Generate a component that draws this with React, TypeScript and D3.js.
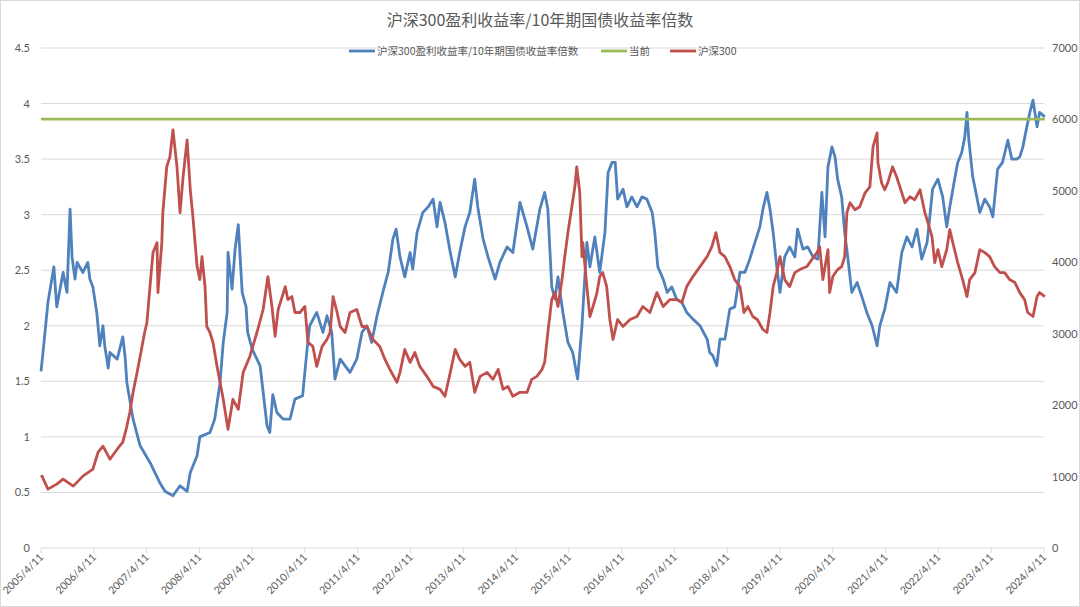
import React from "react";
import * as d3 from "d3";

const width = 1080;
const height = 607;
const margin = { left: 41, right: 36, top: 48, bottom: 59 };
const cjkFont = "'Noto Sans CJK SC', 'Noto Sans', sans-serif";
const numFont = "Lato, 'Noto Sans', sans-serif";
const textColor = "#595959";
const gridColor = "#d9d9d9";

const title = "沪深300盈利收益率/10年期国债收益率倍数";
const seriesNames = ["沪深300盈利收益率/10年期国债收益率倍数", "当前", "沪深300"];
const seriesColors = ["#4f81bd", "#9bbb59", "#c0504d"];

const xTickLabels = [
  "2005/4/11", "2006/4/11", "2007/4/11", "2008/4/11", "2009/4/11",
  "2010/4/11", "2011/4/11", "2012/4/11", "2013/4/11", "2014/4/11",
  "2015/4/11", "2016/4/11", "2017/4/11", "2018/4/11", "2019/4/11",
  "2020/4/11", "2021/4/11", "2022/4/11", "2023/4/11", "2024/4/11",
];
const leftTicks = [0, 0.5, 1, 1.5, 2, 2.5, 3, 3.5, 4, 4.5];
const rightTicks = [0, 1000, 2000, 3000, 4000, 5000, 6000, 7000];

const currentRatio = 3.86;

// 盈利收益率/国债收益率倍数 (left axis)
const ratio: [string, number][] = [
  ["2005-04-11", 1.59], ["2005-04-25", 1.76], ["2005-05-29", 2.21], ["2005-07-09", 2.53],
  ["2005-07-29", 2.17], ["2005-09-11", 2.48], ["2005-10-08", 2.3], ["2005-10-29", 3.05],
  ["2005-11-12", 2.62], ["2005-12-02", 2.42], ["2005-12-17", 2.57], ["2006-01-26", 2.48],
  ["2006-03-01", 2.57], ["2006-03-15", 2.42], ["2006-04-05", 2.35], ["2006-05-02", 2.12],
  ["2006-05-23", 1.82], ["2006-06-14", 2.0], ["2006-06-26", 1.82], ["2006-07-20", 1.62],
  ["2006-08-01", 1.76], ["2006-09-20", 1.7], ["2006-10-29", 1.9], ["2006-11-14", 1.72],
  ["2006-11-26", 1.49], ["2007-01-08", 1.16], ["2007-02-26", 0.92], ["2007-05-05", 0.77],
  ["2007-07-11", 0.59], ["2007-08-17", 0.51], ["2007-10-11", 0.47], ["2007-11-29", 0.56],
  ["2008-01-17", 0.51], ["2008-02-08", 0.68], ["2008-03-26", 0.83], ["2008-04-14", 1.0],
  ["2008-06-23", 1.04], ["2008-07-26", 1.16], ["2008-09-01", 1.49], ["2008-09-23", 1.85],
  ["2008-10-20", 2.12], ["2008-10-26", 2.66], ["2008-11-23", 2.33], ["2008-12-14", 2.69],
  ["2009-01-05", 2.91], ["2009-02-01", 2.3], ["2009-02-28", 2.17], ["2009-03-11", 1.94],
  ["2009-04-11", 1.79], ["2009-06-05", 1.64], ["2009-07-23", 1.1], ["2009-08-11", 1.04],
  ["2009-09-01", 1.38], ["2009-09-29", 1.22], ["2009-11-11", 1.16], ["2009-12-29", 1.16],
  ["2010-02-01", 1.34], ["2010-03-26", 1.37], ["2010-04-26", 1.79], ["2010-05-14", 2.0],
  ["2010-07-02", 2.12], ["2010-08-14", 1.94], ["2010-09-11", 2.09], ["2010-10-14", 1.94],
  ["2010-11-05", 1.52], ["2010-12-11", 1.7], ["2011-02-17", 1.58], ["2011-04-05", 1.7],
  ["2011-05-11", 1.94], ["2011-06-14", 2.0], ["2011-07-17", 1.85], ["2011-08-23", 2.09],
  ["2011-10-02", 2.3], ["2011-11-08", 2.48], ["2011-12-11", 2.78], ["2012-01-02", 2.87],
  ["2012-01-29", 2.62], ["2012-03-02", 2.44], ["2012-04-08", 2.66], ["2012-04-26", 2.51],
  ["2012-05-26", 2.84], ["2012-07-05", 3.02], ["2012-08-11", 3.07], ["2012-09-14", 3.14],
  ["2012-10-11", 2.89], ["2012-11-01", 3.11], ["2012-12-05", 2.93], ["2013-01-11", 2.66],
  ["2013-02-14", 2.44], ["2013-03-17", 2.66], ["2013-04-23", 2.89], ["2013-05-26", 3.02],
  ["2013-06-29", 3.32], ["2013-07-20", 3.07], ["2013-08-26", 2.78], ["2013-09-29", 2.62],
  ["2013-11-17", 2.42], ["2013-12-20", 2.57], ["2014-02-08", 2.71], ["2014-03-20", 2.66],
  ["2014-05-08", 3.11], ["2014-06-26", 2.89], ["2014-08-05", 2.69], ["2014-09-23", 3.05],
  ["2014-10-26", 3.2], ["2014-11-17", 3.05], ["2014-12-14", 2.35], ["2015-01-05", 2.24],
  ["2015-01-26", 2.44], ["2015-03-01", 2.12], ["2015-04-05", 1.85], ["2015-05-08", 1.76],
  ["2015-06-11", 1.52], ["2015-07-11", 2.0], ["2015-08-14", 2.75], ["2015-09-04", 2.53],
  ["2015-10-08", 2.8], ["2015-11-11", 2.48], ["2015-12-17", 2.84], ["2016-01-08", 3.38],
  ["2016-02-04", 3.47], ["2016-02-26", 3.47], ["2016-03-14", 3.14], ["2016-04-20", 3.23],
  ["2016-05-17", 3.07], ["2016-06-20", 3.16], ["2016-07-26", 3.07], ["2016-08-29", 3.16],
  ["2016-10-02", 3.14], ["2016-11-08", 3.02], ["2016-11-26", 2.84], ["2016-12-17", 2.53],
  ["2017-01-23", 2.42], ["2017-02-20", 2.3], ["2017-03-23", 2.35], ["2017-04-26", 2.24],
  ["2017-06-01", 2.21], ["2017-07-05", 2.12], ["2017-08-17", 2.06], ["2017-10-05", 2.0],
  ["2017-11-23", 1.88], ["2017-12-11", 1.76], ["2018-01-02", 1.73], ["2018-01-29", 1.64],
  ["2018-02-20", 1.88], ["2018-03-26", 1.88], ["2018-04-29", 2.15], ["2018-06-02", 2.17],
  ["2018-07-08", 2.48], ["2018-08-11", 2.48], ["2018-09-14", 2.6], ["2018-10-20", 2.75],
  ["2018-11-23", 2.89], ["2018-12-14", 3.05], ["2019-01-11", 3.2], ["2019-02-01", 3.05],
  ["2019-02-23", 2.84], ["2019-03-20", 2.53], ["2019-04-11", 2.3], ["2019-05-14", 2.62],
  ["2019-06-17", 2.71], ["2019-07-23", 2.62], ["2019-08-11", 2.87], ["2019-09-17", 2.69],
  ["2019-10-20", 2.71], ["2019-11-26", 2.62], ["2019-12-29", 2.6], ["2020-01-26", 3.2],
  ["2020-02-17", 2.8], ["2020-03-08", 3.43], ["2020-04-05", 3.61], ["2020-04-26", 3.52],
  ["2020-05-14", 3.32], ["2020-06-11", 3.16], ["2020-07-02", 2.84], ["2020-07-23", 2.62],
  ["2020-08-20", 2.3], ["2020-09-26", 2.39], ["2020-10-29", 2.26], ["2020-12-02", 2.12],
  ["2021-01-08", 2.0], ["2021-02-11", 1.82], ["2021-03-02", 2.0], ["2021-04-05", 2.15],
  ["2021-05-11", 2.39], ["2021-06-26", 2.3], ["2021-08-01", 2.66], ["2021-09-05", 2.8],
  ["2021-10-11", 2.71], ["2021-11-14", 2.87], ["2021-12-17", 2.6], ["2022-01-23", 2.75],
  ["2022-02-11", 2.98], ["2022-03-02", 3.23], ["2022-04-08", 3.32], ["2022-05-11", 3.16],
  ["2022-06-08", 2.89], ["2022-06-29", 3.07], ["2022-08-02", 3.32], ["2022-08-23", 3.47],
  ["2022-09-20", 3.56], ["2022-10-11", 3.7], ["2022-10-26", 3.92], ["2022-11-08", 3.67],
  ["2022-12-05", 3.34], ["2023-01-02", 3.16], ["2023-01-23", 3.02], ["2023-02-26", 3.14],
  ["2023-04-01", 3.07], ["2023-04-23", 2.98], ["2023-05-26", 3.41], ["2023-06-29", 3.47],
  ["2023-08-05", 3.67], ["2023-09-01", 3.5], ["2023-10-05", 3.5], ["2023-10-26", 3.52],
  ["2023-11-17", 3.61], ["2023-12-14", 3.79], ["2024-01-04", 3.92], ["2024-01-26", 4.03],
  ["2024-02-23", 3.79], ["2024-03-11", 3.92], ["2024-04-17", 3.88],
];

// 沪深300 index (right axis)
const csi300: [string, number][] = [
  ["2005-04-11", 990], ["2005-04-18", 1006], ["2005-05-29", 824], ["2005-07-29", 894],
  ["2005-09-11", 964], ["2005-11-20", 866], ["2006-01-26", 1006], ["2006-04-05", 1104],
  ["2006-05-11", 1341], ["2006-06-14", 1425], ["2006-08-01", 1243], ["2006-09-20", 1383],
  ["2006-10-29", 1481], ["2006-11-26", 1704], ["2006-12-17", 1900], ["2007-01-08", 2180],
  ["2007-02-05", 2459], ["2007-02-26", 2682], ["2007-03-29", 3017], ["2007-04-14", 3157],
  ["2007-05-05", 3660], ["2007-05-26", 4135], ["2007-06-23", 4275], ["2007-06-29", 3576],
  ["2007-07-26", 4275], ["2007-08-02", 4694], ["2007-08-29", 5337], ["2007-09-20", 5476],
  ["2007-10-11", 5853], ["2007-11-08", 5337], ["2007-11-29", 4694], ["2007-12-20", 5197],
  ["2008-01-17", 5714], ["2008-02-08", 5015], ["2008-02-26", 4638], ["2008-03-26", 3940],
  ["2008-04-14", 3758], ["2008-04-29", 4079], ["2008-05-20", 3660], ["2008-06-01", 3101],
  ["2008-06-23", 3017], ["2008-07-14", 2878], ["2008-08-11", 2543], ["2008-09-23", 2082],
  ["2008-10-26", 1662], ["2008-11-29", 2082], ["2009-01-05", 1942], ["2009-02-08", 2459],
  ["2009-03-26", 2682], ["2009-05-14", 3017], ["2009-06-26", 3339], ["2009-07-29", 3800],
  ["2009-08-26", 3381], ["2009-09-17", 2962], ["2009-10-08", 3339], ["2009-11-05", 3520],
  ["2009-11-26", 3660], ["2009-12-14", 3478], ["2010-01-11", 3520], ["2010-02-01", 3297],
  ["2010-03-08", 3297], ["2010-04-11", 3381], ["2010-05-02", 2878], ["2010-06-05", 2822],
  ["2010-07-02", 2543], ["2010-08-08", 2822], ["2010-09-11", 2920], ["2010-10-02", 3017],
  ["2010-10-23", 3520], ["2010-11-20", 3297], ["2010-12-11", 3101], ["2011-01-14", 3017],
  ["2011-02-17", 3297], ["2011-04-05", 3339], ["2011-05-11", 3101], ["2011-06-14", 3101],
  ["2011-07-26", 2920], ["2011-09-11", 2822], ["2011-10-17", 2640], ["2011-11-20", 2501],
  ["2012-01-08", 2319], ["2012-01-29", 2459], ["2012-03-02", 2780], ["2012-04-08", 2599],
  ["2012-05-11", 2738], ["2012-06-14", 2543], ["2012-08-02", 2403], ["2012-09-14", 2263],
  ["2012-11-01", 2221], ["2012-12-05", 2124], ["2013-01-11", 2459], ["2013-02-14", 2780],
  ["2013-03-17", 2640], ["2013-04-23", 2543], ["2013-05-26", 2599], ["2013-06-29", 2180],
  ["2013-08-05", 2403], ["2013-09-23", 2459], ["2013-11-02", 2361], ["2013-12-08", 2501],
  ["2014-01-11", 2221], ["2014-02-14", 2263], ["2014-03-20", 2124], ["2014-05-08", 2180],
  ["2014-06-26", 2180], ["2014-07-29", 2361], ["2014-09-02", 2403], ["2014-10-08", 2501],
  ["2014-10-26", 2600], ["2014-11-17", 3017], ["2014-12-14", 3478], ["2015-01-05", 3576],
  ["2015-01-26", 3381], ["2015-02-23", 3758], ["2015-03-14", 4079], ["2015-04-05", 4415],
  ["2015-05-02", 4778], ["2015-05-23", 5057], ["2015-06-05", 5337], ["2015-06-26", 4973],
  ["2015-07-11", 4079], ["2015-07-17", 4275], ["2015-08-14", 3660], ["2015-09-04", 3241],
  ["2015-09-26", 3381], ["2015-10-23", 3576], ["2015-11-11", 3800], ["2015-12-02", 3856],
  ["2015-12-29", 3660], ["2016-01-20", 3199], ["2016-02-11", 2920], ["2016-03-14", 3199],
  ["2016-04-20", 3101], ["2016-06-08", 3199], ["2016-07-26", 3241], ["2016-09-04", 3381],
  ["2016-10-23", 3297], ["2016-12-11", 3576], ["2017-01-23", 3381], ["2017-03-11", 3478],
  ["2017-04-26", 3478], ["2017-06-01", 3437], ["2017-07-05", 3660], ["2017-08-17", 3800],
  ["2017-10-05", 3940], ["2017-11-23", 4079], ["2017-12-26", 4219], ["2018-01-23", 4415],
  ["2018-02-20", 4135], ["2018-03-26", 4079], ["2018-04-29", 3940], ["2018-06-02", 3758],
  ["2018-07-08", 3660], ["2018-08-05", 3297], ["2018-09-01", 3381], ["2018-10-05", 3241],
  ["2018-11-05", 3199], ["2018-12-14", 3059], ["2019-01-11", 3017], ["2019-02-01", 3297],
  ["2019-02-23", 3660], ["2019-03-20", 3856], ["2019-04-11", 4079], ["2019-05-14", 3758],
  ["2019-06-17", 3660], ["2019-07-23", 3856], ["2019-08-26", 3898], ["2019-10-14", 3940],
  ["2019-11-17", 4037], ["2019-12-23", 4135], ["2020-01-11", 4219], ["2020-02-02", 3758],
  ["2020-03-08", 4177], ["2020-03-20", 3576], ["2020-04-11", 3800], ["2020-05-14", 3898],
  ["2020-06-11", 3940], ["2020-07-02", 4079], ["2020-07-17", 4694], ["2020-08-08", 4834],
  ["2020-09-11", 4736], ["2020-10-14", 4778], ["2020-11-20", 4973], ["2020-12-23", 5057],
  ["2021-01-14", 5616], ["2021-02-11", 5811], ["2021-02-17", 5392], ["2021-03-14", 5113],
  ["2021-04-05", 5015], ["2021-04-26", 5113], ["2021-05-29", 5337], ["2021-06-26", 5197],
  ["2021-08-01", 4973], ["2021-08-23", 4834], ["2021-09-26", 4917], ["2021-10-29", 4875],
  ["2021-12-05", 5015], ["2022-01-08", 4694], ["2022-01-29", 4554], ["2022-02-26", 4359],
  ["2022-03-17", 3995], ["2022-04-08", 4177], ["2022-05-05", 3940], ["2022-06-08", 4177],
  ["2022-06-29", 4457], ["2022-07-20", 4275], ["2022-08-23", 3995], ["2022-09-26", 3758],
  ["2022-10-26", 3520], ["2022-11-14", 3758], ["2022-12-20", 3856], ["2023-01-23", 4177],
  ["2023-02-26", 4135], ["2023-04-01", 4079], ["2023-05-05", 3940], ["2023-06-11", 3856],
  ["2023-07-14", 3856], ["2023-08-17", 3758], ["2023-09-23", 3716], ["2023-10-26", 3576],
  ["2023-11-29", 3478], ["2023-12-20", 3297], ["2024-01-26", 3241], ["2024-02-23", 3520],
  ["2024-03-11", 3576], ["2024-04-17", 3520],
];

const parseIso = d3.timeParse("%Y-%m-%d");
const parseTick = d3.timeParse("%Y/%m/%d");

export default function App() {
  const x = d3
    .scaleTime()
    .domain([parseTick(xTickLabels[0])!, parseTick(xTickLabels[xTickLabels.length - 1])!])
    .range([margin.left, width - margin.right]);
  const yLeft = d3
    .scaleLinear()
    .domain([0, 4.5])
    .range([height - margin.bottom, margin.top]);
  const yRight = d3
    .scaleLinear()
    .domain([0, 7000])
    .range([height - margin.bottom, margin.top]);

  const ratioLine = d3
    .line<[string, number]>()
    .x((d) => x(parseIso(d[0])!))
    .y((d) => yLeft(d[1]));
  const csiLine = d3
    .line<[string, number]>()
    .x((d) => x(parseIso(d[0])!))
    .y((d) => yRight(d[1]));

  const xStart = x(parseIso(ratio[0][0])!);
  const xEnd = x(parseIso(ratio[ratio.length - 1][0])!);
  const baseY = yLeft(0);

  const legendItems = [
    { name: seriesNames[0], color: seriesColors[0], x: 349 },
    { name: seriesNames[1], color: seriesColors[1], x: 601 },
    { name: seriesNames[2], color: seriesColors[2], x: 670 },
  ];

  return (
    <svg
      width={width}
      height={height}
      style={{ position: "absolute", left: 0, top: 0, background: "#fff" }}
    >
      <rect x={0.5} y={0.5} width={width - 1} height={height - 1} fill="#fff" stroke="#d9d9d9" />
      <text
        x={width / 2}
        y={26}
        textAnchor="middle"
        fontFamily={cjkFont}
        fontSize={16}
        fill={textColor}
      >
        {title}
      </text>

      {leftTicks.map((t) => (
        <g key={`l${t}`}>
          <line
            x1={margin.left}
            x2={width - margin.right}
            y1={yLeft(t)}
            y2={yLeft(t)}
            stroke={gridColor}
            strokeWidth={1}
          />
          <text
            x={30}
            y={yLeft(t) + 4}
            textAnchor="end"
            fontFamily={numFont}
            fontSize={11}
            fill={textColor}
          >
            {t}
          </text>
        </g>
      ))}

      {rightTicks.map((t) => (
        <text
          key={`r${t}`}
          x={1052}
          y={yRight(t) + 4}
          textAnchor="start"
          fontFamily={numFont}
          fontSize={11}
          fill={textColor}
        >
          {t}
        </text>
      ))}

      {xTickLabels.map((lbl) => {
        const tx = x(parseTick(lbl)!);
        return (
          <g key={lbl}>
            <line x1={tx} x2={tx} y1={baseY} y2={baseY + 5} stroke={gridColor} />
            <text
              transform={`translate(${tx + 3},${baseY + 10}) rotate(-45)`}
              textAnchor="end"
              fontFamily={numFont}
              fontSize={10.5}
              fill={textColor}
            >
              {lbl}
            </text>
          </g>
        );
      })}

      <path d={ratioLine(ratio) ?? ""} fill="none" stroke={seriesColors[0]} strokeWidth={2.8} strokeLinejoin="round" />
      <line
        x1={xStart}
        x2={xEnd}
        y1={yLeft(currentRatio)}
        y2={yLeft(currentRatio)}
        stroke={seriesColors[1]}
        strokeWidth={2.8}
      />
      <path d={csiLine(csi300) ?? ""} fill="none" stroke={seriesColors[2]} strokeWidth={2.8} strokeLinejoin="round" />

      {legendItems.map((it) => (
        <g key={it.name}>
          <line x1={it.x} x2={it.x + 26} y1={51} y2={51} stroke={it.color} strokeWidth={2.8} />
          <text
            x={it.x + 28}
            y={55}
            fontFamily={cjkFont}
            fontSize={10.5}
            fill={textColor}
          >
            {it.name}
          </text>
        </g>
      ))}
    </svg>
  );
}
